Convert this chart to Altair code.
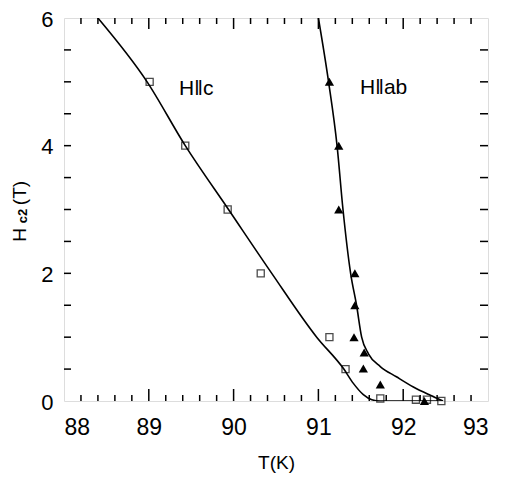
import altair as alt
import pandas as pd

# Data
sq_T = [89.01, 89.43, 89.93, 90.32, 91.13, 91.32, 91.73, 92.15, 92.28, 92.45]
sq_H = [5.0, 4.0, 3.0, 2.0, 1.0, 0.5, 0.04, 0.02, 0.02, 0.0]
tri_T = [91.13, 91.24, 91.24, 91.43, 91.43, 91.42, 91.54, 91.53, 91.73, 92.25]
tri_H = [5.0, 4.0, 3.0, 2.0, 1.5, 1.0, 0.76, 0.51, 0.26, 0.0]
c_T = [88.40, 88.98, 89.43, 89.94, 90.45, 90.98, 91.30, 91.41, 91.53, 91.63, 91.73, 92.45]
c_H = [6.0, 5.0, 4.0, 3.0, 2.0, 1.0, 0.5, 0.28, 0.10, 0.02, 0.0, 0.0]
ab_T = [91.00, 91.12, 91.22, 91.29, 91.38, 91.45, 91.51, 91.59, 91.73, 91.92, 92.12, 92.32, 92.47]
ab_H = [6.0, 5.0, 4.0, 3.0, 2.0, 1.5, 1.0, 0.74, 0.54, 0.38, 0.22, 0.09, 0.0]

x_major = [89, 90, 91, 92]
x_minor = [round(88 + 0.2 * i, 1) for i in range(1, 25) if (i % 5) != 0]
y_ticks = [0.5 * i for i in range(1, 12)]

W, H = 424, 383
FONT = "Liberation Sans"

xs = alt.Scale(domain=[88, 93], nice=False)
ys = alt.Scale(domain=[0, 6], nice=False)

sq = pd.DataFrame({"T": sq_T, "H": sq_H})
tri = pd.DataFrame({"T": tri_T, "H": tri_H})
curves = pd.concat([
    pd.DataFrame({"T": c_T, "H": c_H, "s": "c", "o": range(len(c_T))}),
    pd.DataFrame({"T": ab_T, "H": ab_H, "s": "ab", "o": range(len(ab_T))}),
])

base_x = alt.X("T:Q", scale=xs, axis=alt.Axis(values=[88, 89, 90, 91, 92, 93], title="T(K)",
                                               ticks=False, domain=False, grid=False,
                                               labelFontSize=23, labelPadding=15,
                                               titleFontSize=19, titlePadding=14,
                                               labelFont=FONT, titleFont=FONT,
                                               labelColor="black", titleColor="black",
                                               titleFontWeight="normal", format="d"))
base_y = alt.Y("H:Q", scale=ys, axis=alt.Axis(values=[0, 2, 4, 6], title=None,
                                               ticks=False, domain=False, grid=False,
                                               labelFontSize=22, labelPadding=11, labelOffset=1,
                                               labelFont=FONT, labelColor="black", format="d"))

lines = alt.Chart(curves).mark_line(color="black", strokeWidth=1.6, interpolate="monotone", clip=True).encode(
    x=base_x, y=base_y, detail="s:N", order="o:Q")

squares = alt.Chart(sq).mark_point(shape="square", filled=False, color="black", size=50, strokeWidth=1.3).encode(
    x=alt.X("T:Q", scale=xs), y=alt.Y("H:Q", scale=ys))
triangles = alt.Chart(tri).mark_point(shape="triangle-up", filled=True, color="black", size=85, opacity=1).encode(
    x=alt.X("T:Q", scale=xs), y=alt.Y("H:Q", scale=ys))

xmaj = pd.DataFrame({"v": x_major})
xmin = pd.DataFrame({"v": x_minor})
yt = pd.DataFrame({"v": y_ticks})

def xt(df, y0, y1):
    return alt.Chart(df).mark_rule(color="black", strokeWidth=1.5).encode(
        x=alt.X("v:Q", scale=xs), y=alt.value(y0), y2=alt.value(y1))

def ytk(df, x0, x1):
    return alt.Chart(df).mark_rule(color="black", strokeWidth=1.5).encode(
        y=alt.Y("v:Q", scale=ys), x=alt.value(x0), x2=alt.value(x1))

ticks = [xt(xmaj, H, H - 12), xt(xmin, H, H - 6), xt(xmaj, 0, 11), xt(xmin, 0, 6),
         ytk(yt, 0, 7), ytk(yt, W, W - 8)]

labels = pd.DataFrame({"T": [89.56, 91.77], "H": [4.88, 4.9], "t": ["H\u2016c", "H\u2016ab"]})
lab = alt.Chart(labels).mark_text(fontSize=21, font=FONT, color="black").encode(
    x=alt.X("T:Q", scale=xs), y=alt.Y("H:Q", scale=ys), text="t:N")

ytitle_parts = pd.DataFrame({"t": ["H", "c2", "(T)"], "px": [-44, -41, -44], "py": [217, 198, 175],
                             "fs": [19, 13, 19]})
yt_layers = []
for _, r in ytitle_parts.iterrows():
    yt_layers.append(alt.Chart(pd.DataFrame({"t": [r["t"]]})).mark_text(
        angle=270, fontSize=int(r["fs"]), font=FONT, color="black", align="center", baseline="middle",
        fontWeight="bold" if r["t"] == "c2" else "normal").encode(
        x=alt.value(float(r["px"])), y=alt.value(float(r["py"])), text="t:N"))

chart = alt.layer(lines, squares, triangles, lab, *ticks, *yt_layers).properties(
    width=W, height=H,
    autosize=alt.AutoSizeParams(type="none"),
    padding={"left": 56, "top": 10, "right": 12, "bottom": 76},
).configure_view(stroke="black", strokeWidth=1.6).configure(background="white")

chart.save("out.html", embed_options={"renderer": "svg", "actions": False})
